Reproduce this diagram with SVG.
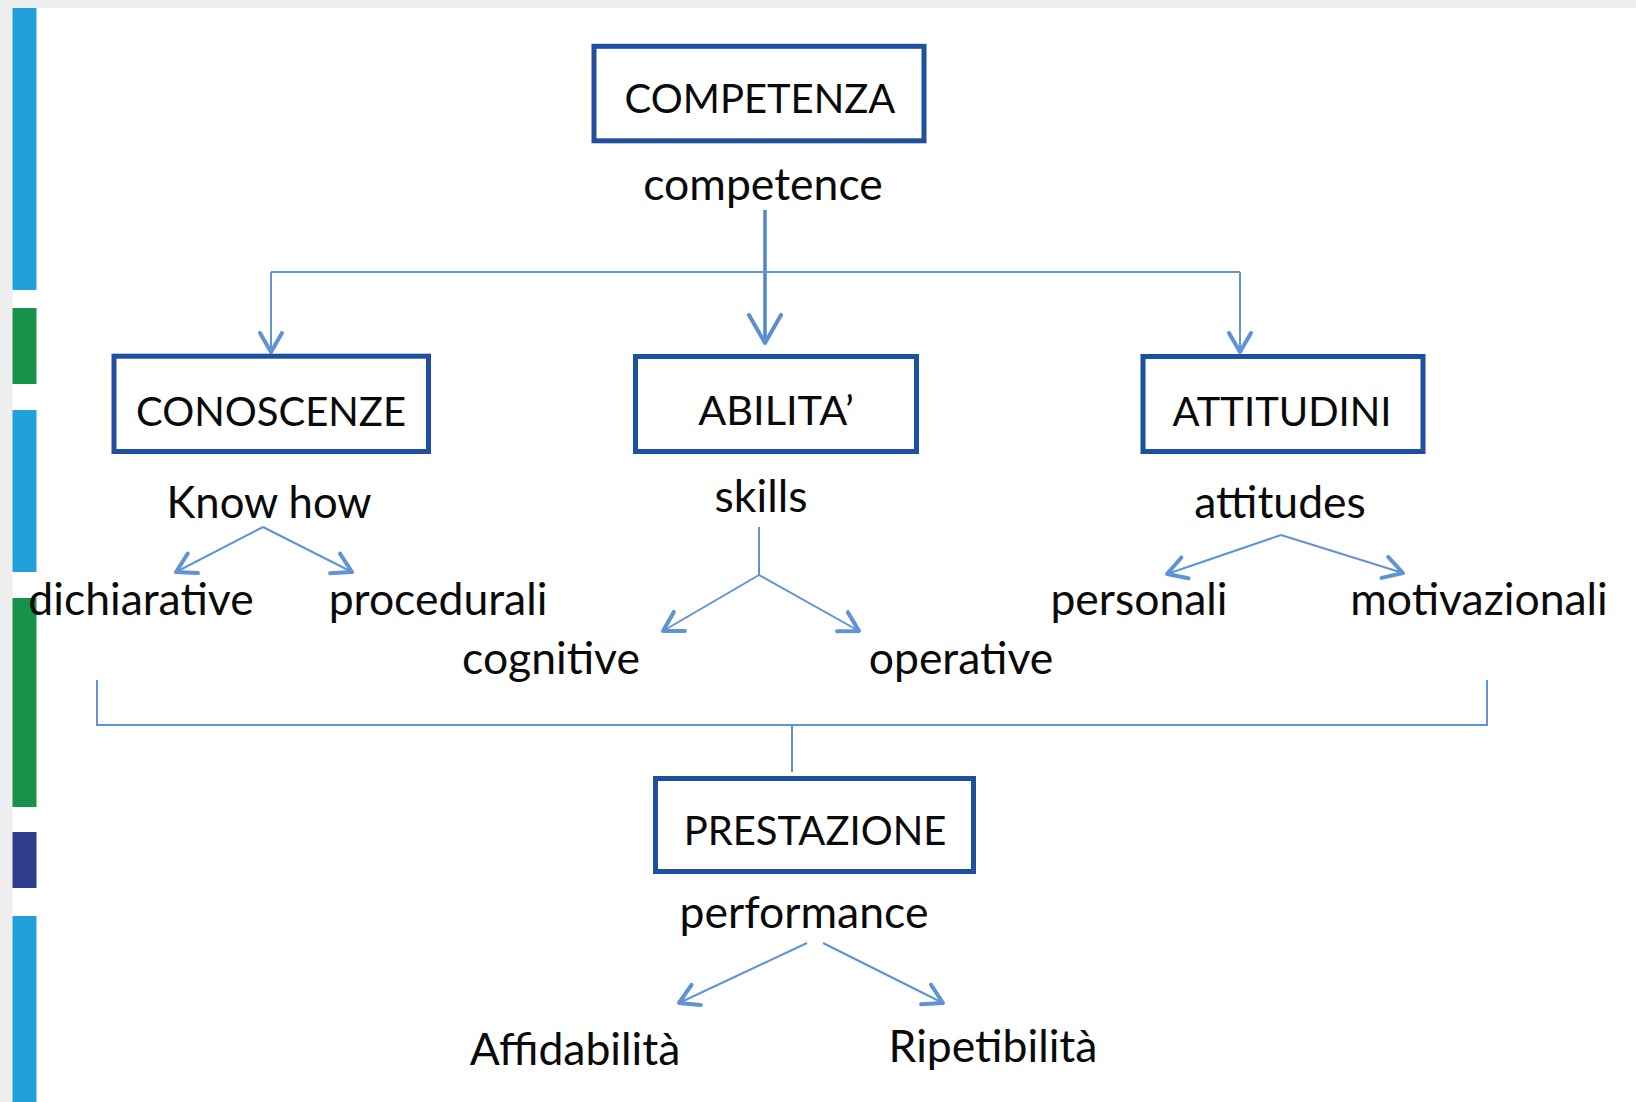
<svg xmlns="http://www.w3.org/2000/svg" width="1636" height="1102" viewBox="0 0 1636 1102">
<style>
.box{fill:#fff;stroke:#1f4f9f;stroke-width:5}
.t{font-family:Lato,"Liberation Sans",sans-serif;font-size:40px;fill:#0a0a0a;text-anchor:middle}
.l{font-size:44.5px}
.c{stroke:#5f93d6;stroke-width:2;fill:none}
.cb{stroke:#4f86cc;stroke-width:3.5;fill:none}
</style>
<defs>
<marker id="big" markerUnits="userSpaceOnUse" viewBox="-34 -22 40 44" refX="0" refY="0" markerWidth="40" markerHeight="44" orient="auto">
<path d="M-28,-16 L0,0 L-28,16" fill="none" stroke="#5a8fd4" stroke-width="4" stroke-linecap="round" stroke-linejoin="round"/>
</marker>
<marker id="sm" markerUnits="userSpaceOnUse" viewBox="-26 -16 30 32" refX="0" refY="0" markerWidth="30" markerHeight="32" orient="auto">
<path d="M-19,-11 L0,0 L-19,11" fill="none" stroke="#5f93d6" stroke-width="4" stroke-linecap="round" stroke-linejoin="round"/>
</marker>
</defs>
<rect x="0" y="0" width="1636" height="1102" fill="#fff"/>
<rect x="0" y="0" width="1636" height="8" fill="#efefef"/>
<rect x="0" y="0" width="12.5" height="1102" fill="#efefef"/>
<g id="sidebar">
<rect x="12.5" y="8" width="24" height="282" fill="#22a0dc"/>
<rect x="12.5" y="308" width="24" height="76" fill="#16924a"/>
<rect x="12.5" y="410" width="24" height="162" fill="#22a0dc"/>
<rect x="12.5" y="598" width="24" height="209" fill="#16924a"/>
<rect x="12.5" y="832" width="24" height="56" fill="#2e3d8e"/>
<rect x="12.5" y="916" width="24" height="186" fill="#22a0dc"/>
</g>
<g id="connectors">
<line class="cb" x1="765" y1="210" x2="765" y2="343" marker-end="url(#big)"/>
<line class="c" x1="271" y1="272" x2="1240" y2="272"/>
<line class="c" x1="271" y1="272" x2="271" y2="352" marker-end="url(#sm)"/>
<line class="c" x1="1240" y1="272" x2="1240" y2="352" marker-end="url(#sm)"/>
<line class="c" x1="263" y1="527" x2="176" y2="572" marker-end="url(#sm)"/>
<line class="c" x1="263" y1="527" x2="352" y2="572" marker-end="url(#sm)"/>
<line class="c" x1="759" y1="527" x2="759" y2="575"/>
<line class="c" x1="759" y1="575" x2="663" y2="631" marker-end="url(#sm)"/>
<line class="c" x1="759" y1="575" x2="859" y2="631" marker-end="url(#sm)"/>
<line class="c" x1="1281" y1="535" x2="1167" y2="574" marker-end="url(#sm)"/>
<line class="c" x1="1281" y1="535" x2="1403" y2="573" marker-end="url(#sm)"/>
<polyline class="c" points="97,680 97,725 1487,725 1487,680"/>
<line class="c" x1="792" y1="725" x2="792" y2="772"/>
<line class="c" x1="807" y1="943" x2="679" y2="1003" marker-end="url(#sm)"/>
<line class="c" x1="823" y1="943" x2="943" y2="1003" marker-end="url(#sm)"/>
</g>
<g id="competenza">
<rect class="box" x="594" y="46.3" width="330" height="94.5"/>
<text class="t" x="760" y="113">COMPETENZA</text>
<text class="t l" x="763" y="200">competence</text>
</g>
<g id="conoscenze">
<rect class="box" x="114" y="356.2" width="314.5" height="95.3"/>
<text class="t" x="271" y="426">CONOSCENZE</text>
<text class="t" x="269" y="518" style="font-size:43.6px">Know how</text>
</g>
<g id="abilita">
<rect class="box" x="635.5" y="356.5" width="281" height="95"/>
<text class="t" x="776" y="425" style="font-size:41.5px">ABILITA’</text>
<text class="t l" x="761" y="512">skills</text>
</g>
<g id="attitudini">
<rect class="box" x="1143" y="356.5" width="280" height="95"/>
<text class="t" x="1282" y="426">ATTITUDINI</text>
<text class="t l" x="1280" y="518">attitudes</text>
</g>
<g id="dichiarative"><text class="t l" x="141" y="615">dichiarative</text></g>
<g id="procedurali"><text class="t l" x="438" y="615">procedurali</text></g>
<g id="cognitive"><text class="t l" x="551" y="674">cognitive</text></g>
<g id="operative"><text class="t l" x="961" y="674">operative</text></g>
<g id="personali"><text class="t l" x="1139" y="615">personali</text></g>
<g id="motivazionali"><text class="t l" x="1479" y="615">motivazionali</text></g>
<g id="prestazione">
<rect class="box" x="655.5" y="778.5" width="318" height="93"/>
<text class="t" x="815" y="845">PRESTAZIONE</text>
<text class="t l" x="804" y="928">performance</text>
</g>
<g id="affidabilita"><text class="t l" x="575" y="1065">Affidabilità</text></g>
<g id="ripetibilita"><text class="t l" x="993" y="1062">Ripetibilità</text></g>
</svg>
